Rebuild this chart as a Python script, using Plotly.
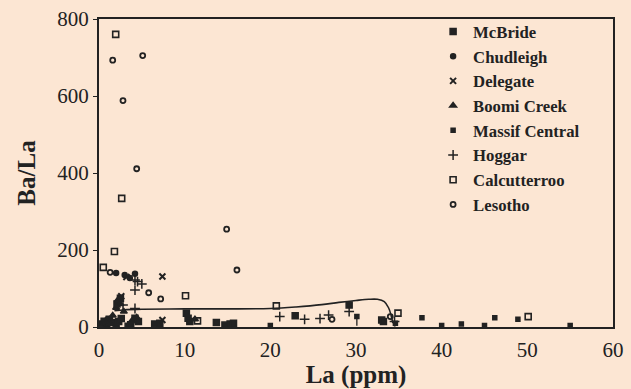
import plotly.graph_objects as go

# ---- data (La ppm, Ba/La) ----
mcbride_x = [0.3, 0.6, 0.9, 1.2, 1.6, 2.0, 2.3, 2.6, 3.4, 3.7, 4.2, 4.6, 6.5, 7.1, 10.2, 10.4, 10.6, 13.7, 14.7, 15.3, 15.7, 22.9, 29.2, 33.0, 33.2, 2.1, 2.5]
mcbride_y = [8, 15, 5, 20, 12, 3, 14, 22, 2, 6, 23, 14, 8, 10, 36, 23, 14, 12, 5, 8, 10, 29, 57, 18, 14, 60, 75]

chud_x = [2.0, 3.0, 3.6, 4.2, 1.0, 0.8]
chud_y = [140, 135, 127, 138, 20, 10]

deleg_x = [7.4, 7.4, 3.2, 2.6]
deleg_y = [131, 18, 130, 80]

boomi_x = [2.2, 2.5, 2.0, 1.2, 3.8, 4.4, 11.2, 1.6, 2.9]
boomi_y = [70, 60, 50, 10, 15, 25, 20, 30, 40]

massif_x = [30.1, 37.7, 42.3, 46.2, 48.9, 34.6, 20.0, 40.0, 45.0, 55.0]
massif_y = [27, 24, 8, 24, 20, 10, 4, 4, 4, 4]
massif_err = [24, 0, 0, 0, 0, 8, 4, 4, 4, 4]

hoggar_x = [4.2, 5.0, 4.2, 4.2, 2.8, 21.1, 24.0, 25.8, 26.8, 29.2, 34.5, 4.5]
hoggar_y = [122, 112, 96, 48, 57, 27, 20, 22, 31, 40, 14, 118]

calc_x = [1.95, 2.65, 1.8, 0.5, 10.1, 20.7, 11.5, 34.9, 50.1]
calc_y = [760, 334, 196, 155, 81, 55, 16, 36, 27]

leso_x = [1.6, 5.1, 2.8, 4.4, 14.9, 16.1, 5.8, 7.2, 1.3, 27.2, 34.0]
leso_y = [693, 705, 588, 411, 254, 148, 89, 73, 142, 20, 27]

curve_x = [1.8, 3, 5, 10, 15, 20, 23, 26, 28, 30, 31.5, 32.5, 33.3, 33.8, 34.1, 34.3]
curve_y = [42, 45, 46, 47, 47, 48, 52, 58, 64, 69, 72, 72, 66, 50, 30, 10]

x_ticks = [0, 10, 20, 30, 40, 50, 60]
y_ticks = [0, 200, 400, 600, 800]

INK = "#222222"
BG = "#fce6d3"
FONT = "Liberation Serif"

fig = go.Figure()

fig.add_trace(go.Scatter(x=curve_x, y=curve_y, mode="lines", line=dict(color=INK, width=1.6, shape="spline"),
                         showlegend=False, hoverinfo="skip"))

def add(name, x, y, symbol, size, lw=1.5, err=None):
    kw = {}
    if err is not None:
        kw["error_y"] = dict(type="data", array=[0]*len(err), arrayminus=err, color=INK, thickness=1.3, width=0)
    fig.add_trace(go.Scatter(x=x, y=y, mode="markers", name="<b>" + name + "</b>",
                             marker=dict(symbol=symbol, size=size, color=INK,
                                         line=dict(color=INK, width=lw)), **kw))

add("McBride", mcbride_x, mcbride_y, "square", 6)
add("Chudleigh", chud_x, chud_y, "circle", 5)
add("Delegate", deleg_x, deleg_y, "x-thin", 6, lw=2)
add("Boomi Creek", boomi_x, boomi_y, "triangle-up", 6)
add("Massif Central", massif_x, massif_y, "square", 4, err=massif_err)
add("Hoggar", hoggar_x, hoggar_y, "cross-thin", 7, lw=1.5)
add("Calcutterroo", calc_x, calc_y, "square-open", 6, lw=1.6)
add("Lesotho", leso_x, leso_y, "circle-open", 5, lw=1.8)

fig.update_layout(
    width=631, height=389,
    margin=dict(l=99, r=18, t=19, b=62, autoexpand=False),
    paper_bgcolor=BG, plot_bgcolor=BG,
    font=dict(family=FONT, color=INK),
    legend=dict(x=0.65, y=1.016, xanchor="left", yanchor="top", bgcolor="rgba(0,0,0,0)",
                font=dict(family=FONT, size=16.7, color=INK), tracegroupgap=0, maxheight=320),
    xaxis=dict(range=[0, 60], tickvals=x_ticks, showgrid=False, zeroline=False, automargin=False,
               showline=True, linecolor=INK, linewidth=2, mirror=True,
               ticks="outside", ticklen=3, tickcolor="rgba(0,0,0,0)",
               tickfont=dict(family=FONT, size=21, color=INK),
               title=dict(text="<b>La (ppm)</b>", font=dict(family=FONT, size=25, color=INK)),
               tickprefix="<b>", ticksuffix="</b>"),
    yaxis=dict(range=[0, 800], tickvals=y_ticks, showgrid=False, zeroline=False, automargin=False,
               showline=True, linecolor=INK, linewidth=2, mirror=True,
               ticks="outside", ticklen=4, tickcolor=INK,
               tickfont=dict(family=FONT, size=21, color=INK),
               title=dict(text="<b>Ba/La</b>", font=dict(family=FONT, size=25, color=INK)),
               tickprefix="<b>", ticksuffix="</b>"),
)

fig.write_html("out.html")
